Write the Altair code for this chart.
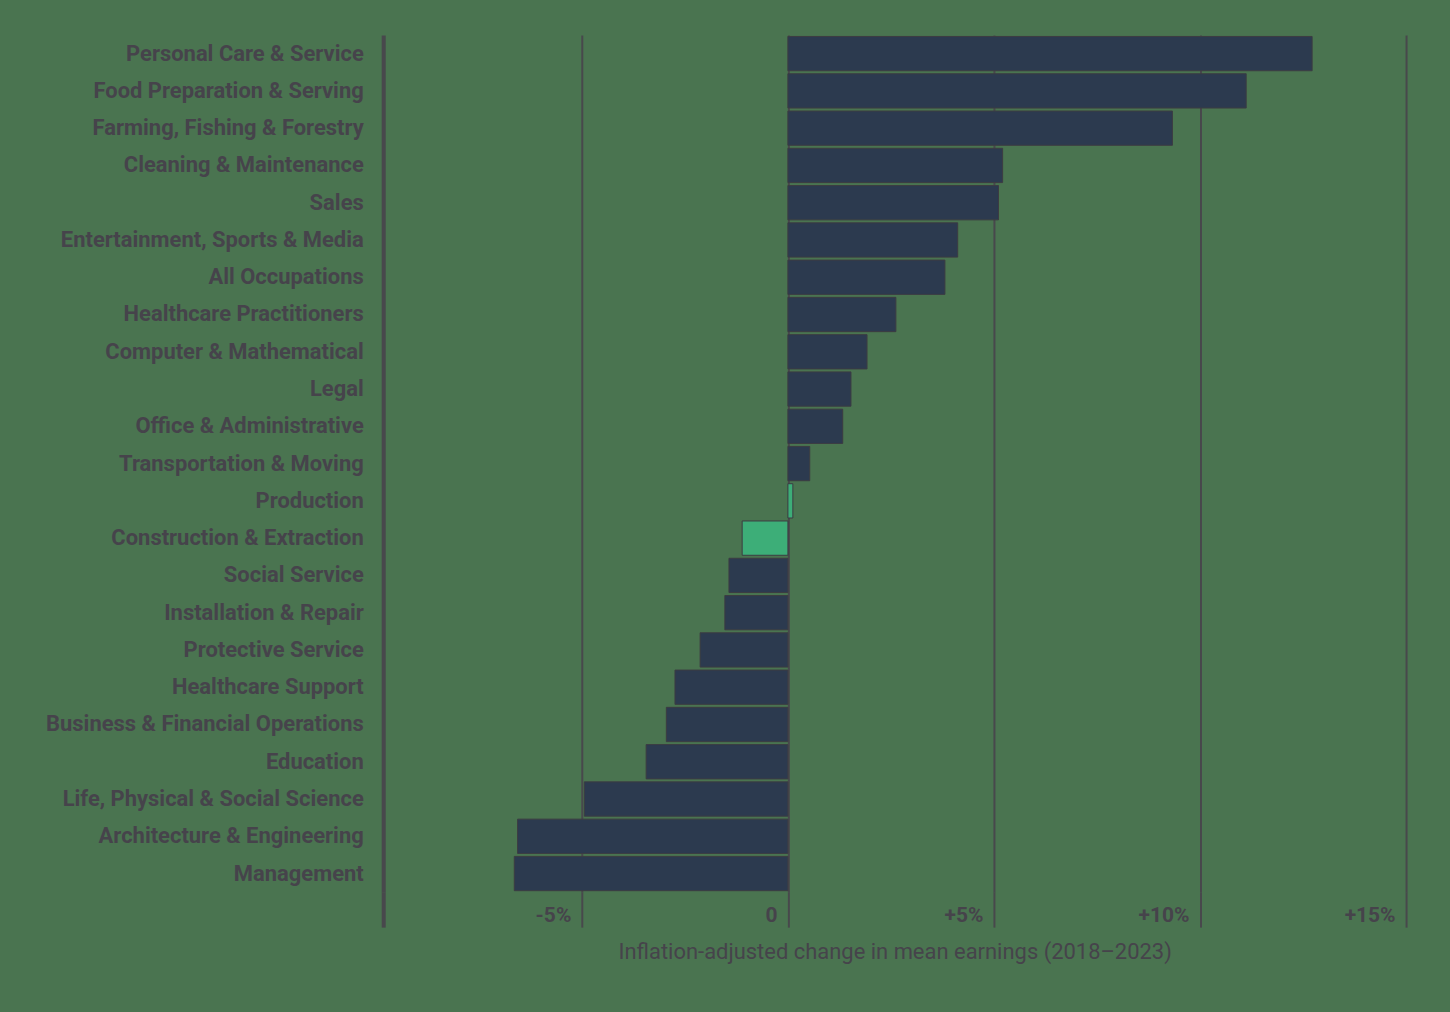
import altair as alt
import pandas as pd

categories = [
    "Personal Care & Service", "Food Preparation & Serving", "Farming, Fishing & Forestry",
    "Cleaning & Maintenance", "Sales", "Entertainment, Sports & Media", "All Occupations",
    "Healthcare Practitioners", "Computer & Mathematical", "Legal", "Office & Administrative",
    "Transportation & Moving", "Production", "Construction & Extraction", "Social Service",
    "Installation & Repair", "Protective Service", "Healthcare Support",
    "Business & Financial Operations", "Education", "Life, Physical & Social Science",
    "Architecture & Engineering", "Management",
]
values = [12.72, 11.12, 9.33, 5.21, 5.11, 4.12, 3.81, 2.62, 1.92, 1.53, 1.33, 0.53, 0.12,
          -1.11, -1.43, -1.53, -2.13, -2.74, -2.95, -3.44, -4.94, -6.56, -6.64]
highlighted = ["Production", "Construction & Extraction"]
tick_values = [-9.82, -5, 0, 5, 10, 15]

df = pd.DataFrame({"occupation": categories, "change": values})
df["group"] = ["highlight" if c in highlighted else "other" for c in categories]

BG = "#4a7450"
TEXT = "#46434b"
GRID = "#48484c"

chart = alt.Chart(df).mark_bar(stroke="#3c3c42", strokeWidth=1).encode(
    y=alt.Y("occupation:N", sort=categories, title=None,
            scale=alt.Scale(paddingInner=0.08, paddingOuter=0.04),
            axis=alt.Axis(ticks=False, domain=False, grid=False, labelPadding=20,
                          labelFont="Roboto", labelFontSize=22, labelFontWeight="bold",
                          labelColor=TEXT, labelLimit=500)),
    x=alt.X("change:Q", title="Inflation-adjusted change in mean earnings (2018\u20132023)",
            scale=alt.Scale(domain=[-9.82, 15], nice=False, zero=False),
            axis=alt.Axis(values=tick_values, domain=False, grid=True,
                          gridColor=GRID,
                          gridWidth={"condition": {"test": "datum.value < -9", "value": 4}, "value": 2},
                          tickWidth={"condition": {"test": "datum.value < -9", "value": 4}, "value": 2},
                          gridOpacity=1,
                          ticks=True, tickSize=35, tickColor=GRID,
                          labelExpr="datum.value < -9 ? '' : (datum.value == 0 ? '0' : (datum.value > 0 ? '+' : '') + datum.value + '%')",
                          labelAlign="right", labelBaseline="middle", labelOffset=-11,
                          labelPadding=-12, labelFont="Roboto", labelFontSize=21,
                          labelFontWeight="bold", labelColor=TEXT, labelFlush=False,
                          titleFont="Roboto", titleFontSize=22, titleFontWeight="normal",
                          titleColor=TEXT, titleY=59, titleBaseline="middle")),
    color=alt.Color("group:N", scale=alt.Scale(domain=["highlight", "other"],
                                               range=["#3dae78", "#2c3a4f"]), legend=None),
).properties(
    width=1025, height=859, background=BG,
    padding={"left": 37, "top": 26, "right": 35, "bottom": 41},
).configure_view(stroke=None)

chart.save("out.html", embed_options={"renderer": "svg", "actions": False,
                                      "defaultStyle": "body { background: #4a7450; }"})
